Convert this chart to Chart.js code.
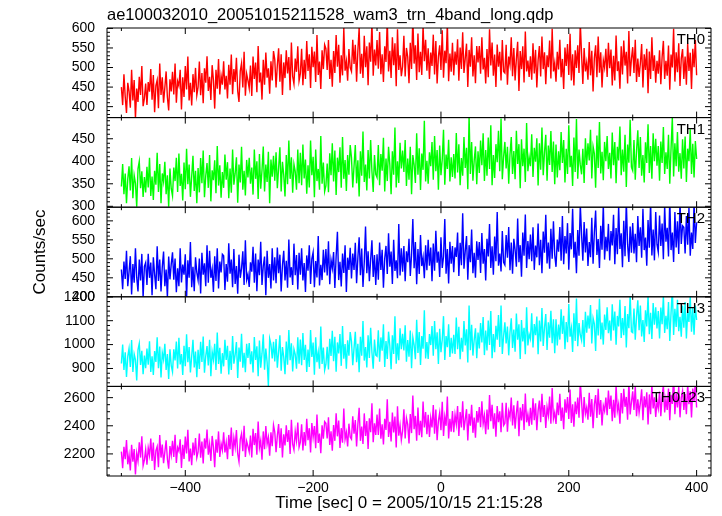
<!DOCTYPE html>
<html>
<head>
<meta charset="utf-8">
<script src="https://cdn.jsdelivr.net/npm/chart.js@4.4.1/dist/chart.umd.min.js"></script>
<style>
  html, body { margin: 0; padding: 0; background: #fff; }
  canvas { display: block; }
</style>
</head>
<body>
<canvas id="lc" width="722" height="516"></canvas>
<script>
// --- TEXT ---
const plotTitle = 'ae100032010_20051015211528_wam3_trn_4band_long.qdp';
const xTitle = 'Time [sec] 0 = 2005/10/15 21:15:28';
const yTitle = 'Counts/sec';

// --- TIME AXIS (2 s bins from -500 s) ---
const timeStart = -500;
const timeStep = 2;
const xRange = [-522.5, 422.5];
const xMajor = 200;
const xMinor = 100;

// --- BANDS (top to bottom) ---
const bandNames = ['TH0', 'TH1', 'TH2', 'TH3', 'TH0123'];
const yRanges = [[372, 601], [298, 497], [400, 636], [825, 1200], [2043, 2680]];
const yMajor = [50, 50, 50, 100, 200];
const yMinor = [10, 10, 10, 20, 50];

// --- COUNT RATES (counts/sec) ---
const th0 = [
  450,404,483,425,384,461,439,397,494,416,468,370,446,412,476,430,504,401,421,459,
  404,463,438,496,418,481,386,454,468,396,510,430,475,410,449,490,424,390,470,439,
  489,431,510,410,465,453,494,393,475,425,504,444,528,416,461,403,483,437,499,429,
  450,515,429,486,409,498,461,529,440,476,417,506,468,395,494,446,522,431,479,456,
  516,444,479,421,507,456,533,432,496,463,525,440,412,491,511,449,540,428,484,467,
  447,505,427,528,471,513,437,555,462,487,418,520,456,538,474,498,433,516,467,542,
  520,449,506,549,464,534,430,513,473,544,485,527,442,564,477,458,523,489,554,466,
  484,548,455,520,471,568,491,534,448,553,501,541,463,583,481,515,445,544,496,558,
  548,494,570,471,520,451,542,486,583,502,558,461,531,480,601,492,516,466,547,500,
  490,571,509,558,464,543,601,484,535,473,581,501,554,455,564,515,617,479,546,505,
  570,497,591,483,534,463,554,514,623,490,543,473,577,506,562,452,598,494,531,478,
  503,581,477,550,527,460,563,496,630,510,557,468,587,488,540,481,608,516,571,492,
  549,471,538,504,584,482,568,459,528,557,494,595,474,543,511,614,465,536,489,563,
  480,541,507,572,466,551,496,590,486,524,561,450,545,502,577,477,531,460,555,513,
  555,484,577,495,525,459,547,475,598,505,564,479,533,450,559,502,540,467,570,490,
  486,558,456,528,507,577,478,550,467,522,566,440,542,496,554,462,592,490,518,476,
  529,469,562,485,545,449,519,555,477,579,496,539,457,531,501,569,472,599,490,512,
  464,540,495,571,475,522,445,551,504,560,481,586,467,534,454,544,499,557,486,615,
  534,458,550,490,513,469,565,480,543,439,524,557,475,579,487,539,449,519,500,548,
  476,563,498,546,454,530,467,582,491,516,446,554,482,569,505,540,459,593,478,522,
  552,486,571,463,523,476,511,560,449,534,494,548,434,541,471,577,491,531,461,517,
  484,544,457,527,568,471,517,479,556,443,533,500,599,464,539,488,562,453,523,547,
  471,528,456,561,491,538,445,548,501,570,480
];
const th1 = [
  344,394,327,373,307,361,389,335,407,318,369,351,299,383,400,340,378,321,365,331,
  388,342,408,323,366,314,379,348,419,332,394,307,373,355,399,327,369,299,384,339,
  323,386,356,408,332,417,345,372,313,397,338,428,349,393,321,366,412,334,379,307,
  385,331,407,351,424,320,368,396,341,414,311,380,358,402,329,434,346,391,319,376,
  341,415,359,398,318,384,330,426,348,373,409,308,393,353,432,337,379,324,403,364,
  408,350,386,326,426,361,400,316,416,339,380,433,333,393,354,421,307,404,366,412,
  357,420,340,385,431,333,399,370,322,414,349,446,361,409,330,393,377,337,426,351,
  419,347,437,362,404,328,391,342,446,369,410,320,426,356,383,337,456,350,397,333,
  346,395,331,418,369,440,355,424,325,408,376,431,341,454,361,403,334,414,370,436,
  408,342,389,436,351,402,322,422,368,466,354,393,335,425,362,447,378,332,414,371,
  364,436,347,416,379,452,333,406,356,432,392,327,422,370,475,342,400,352,441,384,
  424,376,447,345,406,359,432,327,414,392,352,462,370,429,336,417,381,490,355,401,
  350,420,389,443,359,456,378,425,337,435,369,404,470,348,415,383,448,355,409,365,
  416,362,463,375,438,347,407,368,454,385,430,338,502,372,443,357,402,433,349,422,
  374,446,391,462,356,425,368,453,383,480,347,414,363,438,398,468,378,495,360,410,
  443,384,432,350,415,454,372,423,360,468,394,438,340,449,389,428,354,485,378,409,
  389,460,365,430,399,451,346,440,381,475,369,420,459,357,435,392,467,376,444,349,
  437,364,422,380,465,396,447,353,428,372,480,387,412,345,453,376,494,361,426,392,
  371,428,352,451,392,440,402,470,362,433,417,341,457,385,487,373,421,358,443,400,
  456,383,419,362,464,391,443,351,432,402,477,369,426,377,459,343,437,397,492,387,
  379,447,359,424,469,385,454,368,414,353,442,396,482,374,434,361,462,400,450,390,
  434,357,444,396,476,372,420,383,459,350,429,498,366,440,389,465,377,418,361,449,
  384,455,354,428,400,471,372,439,364,445,405
];
const th2 = [
  472,420,493,447,521,428,466,507,406,486,437,528,451,414,498,443,513,398,480,490,
  431,513,450,490,404,504,459,420,533,442,498,414,479,519,428,472,398,506,446,486,
  517,445,501,412,475,428,528,438,485,458,512,396,496,450,544,425,479,415,504,464,
  444,501,409,516,458,488,428,536,437,521,450,473,413,507,442,528,422,493,464,512,
  508,418,486,440,541,461,498,425,526,434,481,408,511,450,475,520,431,549,445,459,
  426,491,466,532,437,514,415,498,457,545,431,481,506,404,521,450,486,422,528,443,
  504,436,530,462,511,414,483,521,443,495,424,551,451,478,431,540,457,510,419,516,
  458,528,443,489,413,509,469,536,434,500,517,425,494,451,560,430,484,444,524,464,
  526,456,546,433,497,475,518,423,507,571,444,492,427,514,463,536,413,503,471,529,
  448,514,471,542,436,503,557,457,527,426,491,585,462,520,441,498,549,452,510,431,
  512,445,543,471,524,424,501,534,460,567,479,519,434,550,468,496,449,592,456,528,
  466,534,441,520,491,553,455,511,605,475,544,433,526,460,563,481,504,449,536,470,
  550,482,530,441,540,469,574,490,519,452,557,476,505,605,461,526,435,545,487,534,
  465,530,505,569,455,542,483,620,474,520,560,445,536,491,577,462,516,450,546,497,
  544,463,568,487,526,443,553,506,592,476,533,458,559,494,623,482,514,467,573,491,
  484,563,503,584,470,543,461,553,524,479,606,491,536,453,569,508,617,476,547,499,
  564,494,583,471,535,504,593,483,550,462,572,516,616,488,543,474,579,500,599,510,
  479,551,519,584,495,613,486,560,514,594,471,568,525,632,503,545,462,576,508,643,
  564,495,597,517,580,481,544,504,608,487,570,627,510,552,476,587,524,644,498,558,
  520,592,496,573,535,616,486,581,512,638,526,567,478,600,507,652,538,492,585,516,
  594,514,566,491,613,534,583,503,632,523,556,482,602,529,649,509,577,496,623,538,
  518,614,534,593,499,640,545,582,506,659,523,569,492,623,530,599,513,652,539,587,
  583,514,613,537,634,508,569,526,649,542,596
];
const th3 = [
  921,1000,894,968,865,951,984,906,1019,885,960,936,850,978,1005,915,974,876,954,901,
  983,916,1014,885,951,873,973,927,1031,901,992,862,966,937,1003,894,960,856,980,912,
  886,980,934,1013,900,1028,917,960,873,995,909,1043,926,990,883,951,1020,904,971,863,
  978,898,1012,927,1034,882,952,994,913,1020,868,970,936,1003,894,1050,919,987,878,964,
  909,1020,936,995,875,974,894,1036,920,958,1011,860,988,928,1045,903,966,884,1003,944,
  1006,918,972,883,1032,936,993,868,1017,903,963,1043,895,983,926,827,1025,1001,942,1012,
  929,1023,903,970,1039,891,990,948,876,1013,916,1061,935,1005,888,981,959,899,1031,920,
  1021,914,1048,936,999,885,979,906,1061,948,1009,874,1031,926,968,899,1076,919,988,893,
  918,991,896,1024,952,1058,930,1033,886,1009,963,1044,911,1078,941,1002,899,1018,953,1052,
  1013,914,985,1054,926,1003,884,1033,953,1099,933,990,904,1039,944,1070,968,899,1021,956,
  951,1060,928,1030,974,1085,906,1015,940,1054,994,897,1039,961,1118,920,1005,935,1068,981,
  1045,975,1081,928,1019,949,1059,901,1030,999,939,1104,965,1053,915,1036,983,1144,942,1011,
  940,1044,998,1078,953,1099,981,1051,919,1066,968,1020,1119,936,1036,989,1085,948,1028,963,
  1041,961,1113,981,1075,939,1028,970,1099,996,1064,925,1163,976,1083,954,1020,1068,943,1050,
  984,1090,1009,1115,956,1059,975,1101,998,1140,943,1044,968,1079,1020,1124,990,1163,961,1036,
  1093,1005,1076,955,1051,1110,986,1063,970,1130,1020,1085,940,1103,1013,1070,960,1156,996,1043,
  1024,1131,988,1086,1039,1117,960,1101,1013,1153,994,1071,1128,977,1093,1029,1142,1006,1106,964,
  1106,996,1084,1021,1148,1045,1121,981,1094,1010,1170,1033,1069,969,1131,1015,1193,993,1090,1040,
  1018,1103,990,1137,1050,1121,1067,1166,1005,1111,1087,973,1147,1038,1192,1022,1092,1000,1126,1061,
  1156,1048,1101,1016,1169,1059,1138,999,1120,1076,1188,1028,1111,1039,1161,988,1128,1069,1210,1054,
  1050,1151,1020,1118,1185,1060,1163,1034,1103,1011,1144,1076,1204,1043,1133,1024,1174,1083,1156,1068,
  1140,1026,1155,1085,1204,1049,1120,1064,1178,1015,1133,1235,1040,1150,1074,1188,1056,1116,1033,1163,
  1071,1178,1026,1136,1095,1201,1054,1153,1041,1163,1103
];
const th0123 = [
  2216,2098,2250,2162,2299,2126,2193,2083,2265,2144,2235,2054,2206,2149,2283,2174,2326,2115,2155,2231,
  2123,2243,2189,2310,2150,2281,2086,2224,2253,2106,2335,2174,2266,2134,2214,2296,2163,2095,2256,2193,
  2294,2178,2336,2135,2245,2220,2304,2100,2265,2165,2324,2203,2371,2146,2238,2120,2281,2190,2313,2173,
  2215,2345,2173,2288,2133,2310,2238,2373,2195,2268,2150,2328,2250,2105,2303,2208,2360,2178,2273,2228,
  2353,2210,2280,2163,2335,2233,2388,2185,2313,2248,2370,2200,2145,2303,2343,2220,2400,2178,2290,2255,
  2215,2330,2175,2378,2263,2348,2195,2430,2245,2295,2158,2360,2233,2398,2270,2318,2188,2353,2255,2405,
  2355,2213,2328,2413,2243,2383,2175,2340,2260,2403,2285,2370,2200,2443,2270,2230,2360,2293,2423,2248,
  2283,2410,2225,2355,2258,2450,2298,2383,2210,2420,2318,2398,2240,2480,2278,2345,2205,2403,2308,2430,
  2418,2310,2460,2263,2360,2223,2405,2293,2488,2325,2438,2243,2383,2280,2523,2305,2353,2253,2415,2320,
  2305,2468,2343,2440,2253,2410,2528,2293,2395,2270,2488,2328,2433,2235,2453,2355,2560,2283,2418,2335,
  2480,2335,2523,2308,2410,2268,2450,2370,2588,2320,2428,2288,2495,2353,2465,2245,2538,2330,2403,2298,
  2363,2518,2310,2455,2410,2275,2483,2348,2615,2375,2470,2293,2530,2333,2435,2318,2573,2388,2498,2340,
  2478,2320,2455,2388,2548,2343,2515,2298,2435,2493,2368,2570,2328,2465,2400,2608,2310,2450,2358,2505,
  2355,2478,2410,2540,2328,2498,2388,2575,2368,2445,2518,2295,2485,2400,2550,2350,2458,2315,2505,2423,
  2533,2390,2575,2413,2473,2340,2515,2373,2618,2433,2550,2380,2488,2323,2540,2425,2503,2355,2563,2403,
  2418,2563,2358,2503,2460,2600,2403,2545,2380,2490,2578,2325,2530,2438,2555,2370,2630,2425,2483,2398,
  2528,2408,2595,2440,2560,2368,2508,2580,2425,2628,2463,2548,2385,2533,2473,2608,2415,2668,2450,2495,
  2413,2565,2475,2628,2435,2530,2375,2588,2493,2605,2448,2658,2420,2553,2393,2573,2483,2600,2458,2715,
  2573,2420,2605,2485,2530,2443,2635,2465,2590,2383,2553,2618,2455,2663,2478,2583,2403,2543,2505,2600,
  2475,2650,2520,2615,2433,2585,2458,2688,2505,2555,2415,2633,2488,2663,2535,2605,2443,2710,2480,2568,
  2645,2513,2683,2468,2588,2493,2563,2660,2440,2610,2530,2638,2410,2623,2483,2695,2523,2603,2463,2575,
  2523,2643,2468,2608,2690,2495,2588,2513,2665,2440,2620,2555,2753,2483,2633,2530,2678,2460,2600,2648,
  2513,2625,2483,2693,2553,2645,2460,2665,2573,2710,2530
];

// --- STYLE ---
const bandColors = ['#ff0000', '#00ff00', '#0000ff', '#00ffff', '#ff00ff'];
const fontFamily = '"Liberation Sans", Arial, Helvetica, sans-serif';
Chart.defaults.font.family = fontFamily;
Chart.defaults.color = '#000';

const seriesList = [th0, th1, th2, th3, th0123];
const minus = v => String(v).replace('-', '\u2212');

// one shared x axis, five y axes stacked on the left
const scales = {
    x: {
        type: 'linear',
        min: xRange[0],
        max: xRange[1],
        grid: { display: false, drawTicks: false },
        border: { display: false },
        ticks: {
            stepSize: xMinor,
            includeBounds: false,
            autoSkip: false,
            maxRotation: 0,
            padding: 4,
            font: { size: 14 },
            callback: v => (v % xMajor === 0 ? minus(v) : '')
        },
        title: { display: true, text: xTitle, font: { size: 17 }, padding: { top: 0, bottom: 2 } },
        afterFit: s => { s.height = 40; }
    }
};
// stacked axes are laid out bottom-up, so add the lowest panel first
for (let i = bandNames.length - 1; i >= 0; i--) {
    scales['y' + i] = {
        type: 'linear',
        position: 'left',
        stack: 'bands',
        stackWeight: 1,
        min: yRanges[i][0],
        max: yRanges[i][1],
        grid: { display: false, drawTicks: false },
        border: { display: false },
        ticks: {
            stepSize: yMinor[i],
            includeBounds: false,
            autoSkip: false,
            padding: 12,
            font: { size: 14 },
            callback: function (v) {
                return (v % yMajor[i] === 0 && v >= this.min && v <= this.max) ? v : '';
            }
        },
        afterFit: s => { s.width = 107; }
    };
}

const datasets = seriesList.map((vals, i) => ({
    label: bandNames[i],
    data: vals.map((v, k) => ({ x: timeStart + k * timeStep, y: v })),
    yAxisID: 'y' + i,
    borderColor: bandColors[i],
    borderWidth: 1.4,
    pointRadius: 0,
    tension: 0,
    fill: false,
    clip: 0
}));

// frames, inward tick marks, band names, plot title and y title
const framePlugin = {
    id: 'frames',
    afterDraw(chart) {
        const ctx = chart.ctx;
        const xs = chart.scales.x;
        const L = xs.left, R = xs.right;
        ctx.save();
        ctx.strokeStyle = '#000';
        ctx.lineWidth = 1;
        ctx.fillStyle = '#000';
        bandNames.forEach((name, i) => {
            const ys = chart.scales['y' + i];
            const T = ys.top, B = ys.bottom;
            ctx.beginPath();
            ctx.rect(L, T, R - L, B - T);
            ys.ticks.forEach(t => {
                if (t.value < ys.min || t.value > ys.max) return;
                const y = ys.getPixelForValue(t.value);
                const len = t.value % yMajor[i] === 0 ? 6 : 3;
                ctx.moveTo(L, y); ctx.lineTo(L + len, y);
                ctx.moveTo(R, y); ctx.lineTo(R - len, y);
            });
            xs.ticks.forEach(t => {
                const x = xs.getPixelForValue(t.value);
                const len = t.value % xMajor === 0 ? 6 : 3;
                ctx.moveTo(x, T); ctx.lineTo(x, T + len);
                ctx.moveTo(x, B); ctx.lineTo(x, B - len);
            });
            ctx.stroke();

            ctx.font = '15px ' + fontFamily;
            ctx.textAlign = 'right';
            ctx.textBaseline = 'alphabetic';
            ctx.fillText(name, R - 6, T + 16);
        });

        ctx.font = '16.5px ' + fontFamily;
        ctx.textAlign = 'left';
        ctx.textBaseline = 'alphabetic';
        ctx.fillText(plotTitle, L, 20);

        ctx.font = '17px ' + fontFamily;
        ctx.translate(40, (chart.chartArea.top + chart.chartArea.bottom) / 2);
        ctx.rotate(-Math.PI / 2);
        ctx.textAlign = 'center';
        ctx.textBaseline = 'middle';
        ctx.fillText(yTitle, 0, 0);
        ctx.restore();
    }
};

const ctxLc = document.getElementById('lc').getContext('2d');
const lcChart = new Chart(ctxLc, {
    type: 'line',
    data: { datasets: datasets },
    options: {
        responsive: false,
        animation: false,
        events: [],
        layout: { padding: { left: 0, right: 11, top: 28, bottom: 0 } },
        plugins: {
            legend: { display: false },
            tooltip: { enabled: false }
        },
        scales: scales
    },
    plugins: [framePlugin]
});
</script>
</body>
</html>
